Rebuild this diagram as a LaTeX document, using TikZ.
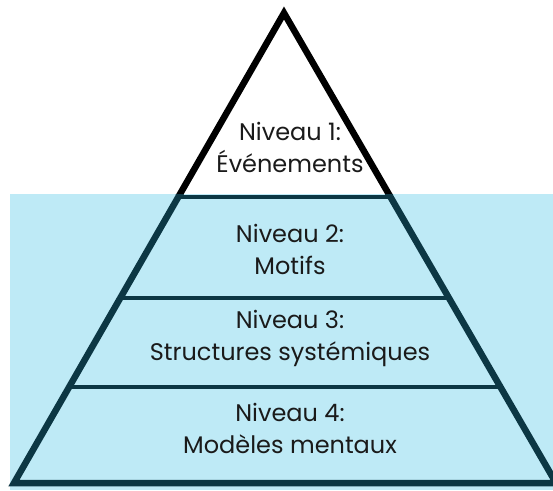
\documentclass[tikz,border=0pt]{standalone}
\usepackage{fontspec}
\setmainfont{Poppins}
\definecolor{water}{HTML}{BEEAF6}
\definecolor{deep}{HTML}{0C3744}
\definecolor{txt}{HTML}{1A1A1A}
\tikzset{
  level/.style={align=center, text=txt, font=\fontsize{24}{32}\selectfont, inner sep=0pt},
  edge/.style={line width=6.5pt, line join=miter},
  sep/.style={line width=4.5pt, deep}
}
\begin{document}
\begin{tikzpicture}[x=1pt,y=-1pt]
\useasboundingbox (0,0) rectangle (553,490);
\fill[water] (10,194) rectangle (553,490);
\coordinate (apex) at (284,13);
\coordinate (bl) at (14,483);
\coordinate (br) at (556,483);
\begin{scope}
\clip (-20,-20) rectangle (600,194);
\draw[edge, black] (bl) -- (apex) -- (br) -- cycle;
\end{scope}
\begin{scope}
\clip (-20,194) rectangle (600,520);
\draw[edge, deep] (bl) -- (apex) -- (br) -- cycle;
\end{scope}
\coordinate (l1a) at (178,197); \coordinate (l1b) at (390,197);
\coordinate (l2a) at (120,298); \coordinate (l2b) at (448,298);
\coordinate (l3a) at (70,387); \coordinate (l3b) at (500,387);
\draw[sep] (l1a) -- (l1b);
\draw[sep] (l2a) -- (l2b);
\draw[sep] (l3a) -- (l3b);
\node[level] (n1) at (290,147) {Niveau 1:\\Événements};
\node[level] (n2) at (290,249) {Niveau 2:\\Motifs};
\node[level] (n3) at (290,338) {Niveau 3:\\Structures systémiques};
\node[level] (n4) at (290,428) {Niveau 4:\\Modèles mentaux};
\end{tikzpicture}
\end{document}
